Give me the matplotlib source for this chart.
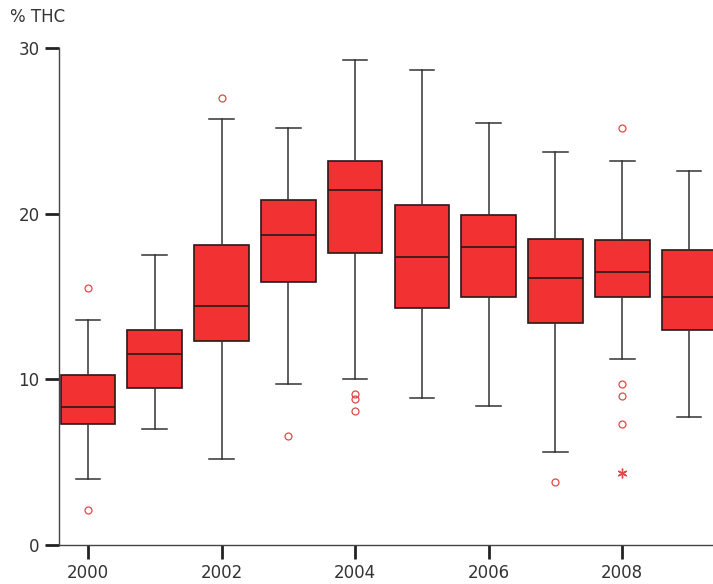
import matplotlib
matplotlib.use("Agg")
import matplotlib.pyplot as plt

years = [2000, 2001, 2002, 2003, 2004, 2005, 2006, 2007, 2008, 2009]
whislo = [4.0, 7.0, 5.2, 9.7, 10.0, 8.9, 8.4, 5.6, 11.2, 7.7]
q1 = [7.3, 9.5, 12.3, 15.9, 17.6, 14.3, 15.0, 13.4, 15.0, 13.0]
med = [8.3, 11.5, 14.4, 18.7, 21.4, 17.4, 18.0, 16.1, 16.5, 15.0]
q3 = [10.25, 13.0, 18.1, 20.8, 23.2, 20.5, 19.9, 18.5, 18.4, 17.8]
whishi = [13.6, 17.5, 25.7, 25.2, 29.3, 28.7, 25.5, 23.7, 23.2, 22.6]
outliers = [[15.5, 2.1], [], [27.0], [6.6], [9.1, 8.8, 8.1], [], [], [3.8], [25.2, 9.7, 9.0, 7.3], []]
extremes = [[], [], [], [], [], [], [], [], [4.35], []]
xtick_labels = ["2000", "2002", "2004", "2006", "2008"]

fig = plt.figure(figsize=(7.13, 5.84), dpi=100)
ax = fig.add_axes([59/713, 39/584, 1 - 59/713, (545-48)/584])

stats = []
for i in range(len(years)):
    stats.append(dict(whislo=whislo[i], q1=q1[i], med=med[i], q3=q3[i],
                      whishi=whishi[i], fliers=outliers[i]))

ax.bxp(stats, positions=years, widths=0.82, patch_artist=True, showfliers=True,
       boxprops=dict(facecolor="#f23232", edgecolor="#2a1818", linewidth=1.2),
       medianprops=dict(color="#2a1818", linewidth=1.2),
       whiskerprops=dict(color="#333333", linewidth=1.1),
       capprops=dict(color="#333333", linewidth=1.1),
       capwidths=0.37,
       flierprops=dict(marker="o", markerfacecolor="none", markeredgecolor="#e04848",
                       markersize=5, markeredgewidth=0.9, linestyle="none"))
for x, ys in zip(years, extremes):
    if ys:
        ax.plot([x]*len(ys), ys, linestyle="none", marker=(6, 2, 0), markersize=7,
                markeredgewidth=1.0, markerfacecolor="#e04848", markeredgecolor="#e04848")

ax.set_xlim(1999.565, 2009.36)
ax.set_ylim(0, 30)
ax.set_yticks([0, 10, 20, 30])
ax.set_xticks([int(t) for t in xtick_labels])
ax.set_xticklabels(xtick_labels)
for s in ["top", "right"]:
    ax.spines[s].set_visible(False)
for s in ["left", "bottom"]:
    ax.spines[s].set_color("#444444")
    ax.spines[s].set_linewidth(1.0)
ax.tick_params(axis="both", colors="#222222", labelsize=12, width=2.0, length=10, labelcolor="#333333")
ax.tick_params(axis="x", pad=4)
ax.tick_params(axis="y", pad=4)
fig.text(10/713, 1 - 17/584, "% THC", fontsize=12, color="#333333", va="center", ha="left")

fig.savefig("out.png", dpi=100)
